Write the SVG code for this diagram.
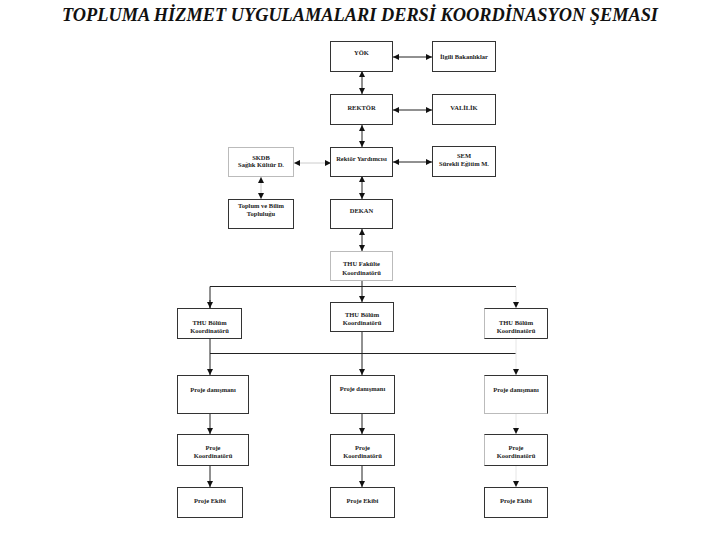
<svg xmlns="http://www.w3.org/2000/svg" width="720" height="540" viewBox="0 0 720 540">
<style>
.box{fill:#fff;stroke:#333;stroke-width:1}
.fbox{fill:#fff;stroke:#bbb;stroke-width:1}
.edge{fill:none;stroke:#333;stroke-width:1}
.t{font-family:"Liberation Serif",serif;font-weight:bold;font-size:6.5px;fill:#222;text-anchor:middle}
.c{fill:none;stroke:#222;stroke-width:1}
.cl{fill:none;stroke:#ccc;stroke-width:1}
.ce{fill:none;stroke:#e6e6e6;stroke-width:1}
</style>
<defs>
<marker id="ah" viewBox="0 0 6 6" refX="6" refY="3" markerWidth="6" markerHeight="6" markerUnits="userSpaceOnUse" orient="auto-start-reverse">
<path d="M0,0 L6,3 L0,6 Z" fill="#111"/>
</marker>
</defs>
<rect width="720" height="540" fill="#fff"/>
<text x="360" y="21" font-family="Liberation Serif,serif" font-weight="bold" font-style="italic" font-size="18" textLength="596" lengthAdjust="spacingAndGlyphs" text-anchor="middle" fill="#111">TOPLUMA HİZMET UYGULAMALARI DERSİ KOORDİNASYON ŞEMASI</text>

<g id="connectors">
<line class="c" x1="393" y1="57" x2="432" y2="57" marker-start="url(#ah)" marker-end="url(#ah)"/>
<line class="c" x1="362" y1="71" x2="362" y2="94" marker-start="url(#ah)" marker-end="url(#ah)"/>
<line class="c" x1="393" y1="110" x2="432" y2="110" marker-start="url(#ah)" marker-end="url(#ah)"/>
<line class="c" x1="362" y1="125" x2="362" y2="147" marker-start="url(#ah)" marker-end="url(#ah)"/>
<line class="cl" x1="294" y1="163" x2="331" y2="163" marker-start="url(#ah)" marker-end="url(#ah)"/>
<line class="c" x1="393" y1="162" x2="432" y2="162" marker-start="url(#ah)" marker-end="url(#ah)"/>
<line class="cl" x1="261" y1="177" x2="261" y2="199" marker-start="url(#ah)" marker-end="url(#ah)"/>
<line class="c" x1="362" y1="176" x2="362" y2="199" marker-start="url(#ah)" marker-end="url(#ah)"/>
<line class="c" x1="362" y1="229" x2="362" y2="251" marker-start="url(#ah)" marker-end="url(#ah)"/>
<line class="c" x1="362" y1="280" x2="362" y2="302" marker-end="url(#ah)"/>
<polyline class="c" points="210,308 210,286.5 516,286.5"/>
<line class="c" x1="210" y1="300" x2="210" y2="308" marker-end="url(#ah)"/>
<line class="ce" x1="516" y1="287" x2="516" y2="308" marker-end="url(#ah)"/>
<line class="c" x1="210" y1="339" x2="210" y2="375" marker-end="url(#ah)"/>
<line class="c" x1="210" y1="353.5" x2="516" y2="353.5"/>
<line class="c" x1="362" y1="331" x2="362" y2="375" marker-end="url(#ah)"/>
<line class="ce" x1="516" y1="339" x2="516" y2="375" marker-end="url(#ah)"/>
<line class="c" x1="210" y1="413" x2="210" y2="434" marker-end="url(#ah)"/>
<line class="c" x1="362" y1="413" x2="362" y2="434" marker-end="url(#ah)"/>
<line class="ce" x1="516" y1="413" x2="516" y2="434" marker-end="url(#ah)"/>
<line class="c" x1="210" y1="465" x2="210" y2="487" marker-end="url(#ah)"/>
<line class="c" x1="362" y1="465" x2="362" y2="487" marker-end="url(#ah)"/>
<line class="ce" x1="516" y1="465" x2="516" y2="487" marker-end="url(#ah)"/>
</g>

<g id="yok"><rect class="box" x="330.5" y="41.5" width="62" height="30"/><text class="t" x="361.5" y="55">YÖK</text></g>
<g id="bakanliklar"><rect class="box" x="432.5" y="41.5" width="63" height="30"/><text class="t" x="464" y="59">İlgili Bakanlıklar</text></g>
<g id="rektor"><rect class="box" x="330.5" y="94.5" width="62" height="30"/><text class="t" x="361.5" y="110">REKTÖR</text></g>
<g id="valilik"><rect class="box" x="432.5" y="94.5" width="63" height="30"/><text class="t" x="464" y="110">VALİLİK</text></g>
<g id="skdb"><rect class="fbox" x="228.5" y="147.5" width="65" height="29"/><text class="t" x="261" y="160">SKDB</text><text class="t" x="261" y="167">Sağlık Kültür D.</text></g>
<g id="rektor-yrd"><rect class="box" x="330.5" y="147.5" width="62" height="29"/><text class="t" x="361.5" y="161">Rektör Yardımcısı</text></g>
<g id="sem"><rect class="box" x="432.5" y="146.5" width="63" height="30"/><text class="t" x="464" y="158">SEM</text><text class="t" x="464" y="166">Sürekli Eğitim M.</text></g>
<g id="toplum"><rect class="box" x="228.5" y="199.5" width="65" height="29"/><text class="t" x="261" y="208">Toplum ve Bilim</text><text class="t" x="261" y="216">Topluluğu</text></g>
<g id="dekan"><rect class="box" x="330.5" y="199.5" width="62" height="29"/><text class="t" x="361.5" y="213">DEKAN</text></g>
<g id="fakulte"><rect class="fbox" x="330.5" y="251.5" width="62" height="29"/><text class="t" x="361.5" y="266">THU Fakülte</text><text class="t" x="361.5" y="275">Koordinatörü</text></g>

<g id="bolum-1"><rect class="box" x="177.5" y="308.5" width="64" height="30"/><text class="t" x="209.5" y="325">THU Bölüm</text><text class="t" x="209.5" y="333">Koordinatörü</text></g>
<g id="bolum-2"><rect class="box" x="330.5" y="302.5" width="63" height="29"/><text class="t" x="362" y="317">THU Bölüm</text><text class="t" x="362" y="325">Koordinatörü</text></g>
<g id="bolum-3"><rect class="fbox" x="484.5" y="308.5" width="63" height="30"/><path class="edge" d="M484.5,308.5 H547.5 V338.5 H484.5"/><text class="t" x="516" y="325">THU Bölüm</text><text class="t" x="516" y="333">Koordinatörü</text></g>

<g id="danisman-1"><rect class="box" x="177.5" y="375.5" width="71" height="38"/><text class="t" x="213" y="392">Proje danışmanı</text></g>
<g id="danisman-2"><rect class="box" x="330.5" y="375.5" width="64" height="38"/><text class="t" x="362.5" y="391">Proje danışmanı</text></g>
<g id="danisman-3"><rect class="fbox" x="484.5" y="375.5" width="63" height="38"/><path class="edge" d="M484.5,375.5 H547.5 V413.5"/><text class="t" x="516" y="392">Proje danışmanı</text></g>

<g id="koord-1"><rect class="box" x="177.5" y="434.5" width="71" height="31"/><text class="t" x="213" y="450">Proje</text><text class="t" x="213" y="458">Koordinatörü</text></g>
<g id="koord-2"><rect class="box" x="330.5" y="434.5" width="64" height="31"/><text class="t" x="362.5" y="450">Proje</text><text class="t" x="362.5" y="458">Koordinatörü</text></g>
<g id="koord-3"><rect class="fbox" x="484.5" y="434.5" width="63" height="31"/><path class="edge" d="M484.5,434.5 H547.5 V465.5 H484.5"/><text class="t" x="516" y="450">Proje</text><text class="t" x="516" y="458">Koordinatörü</text></g>

<g id="ekip-1"><rect class="box" x="177.5" y="487.5" width="65" height="30"/><text class="t" x="210" y="503">Proje Ekibi</text></g>
<g id="ekip-2"><rect class="box" x="330.5" y="487.5" width="64" height="30"/><text class="t" x="362.5" y="503">Proje Ekibi</text></g>
<g id="ekip-3"><rect class="box" x="484.5" y="487.5" width="63" height="30"/><text class="t" x="516" y="503">Proje Ekibi</text></g>
</svg>
